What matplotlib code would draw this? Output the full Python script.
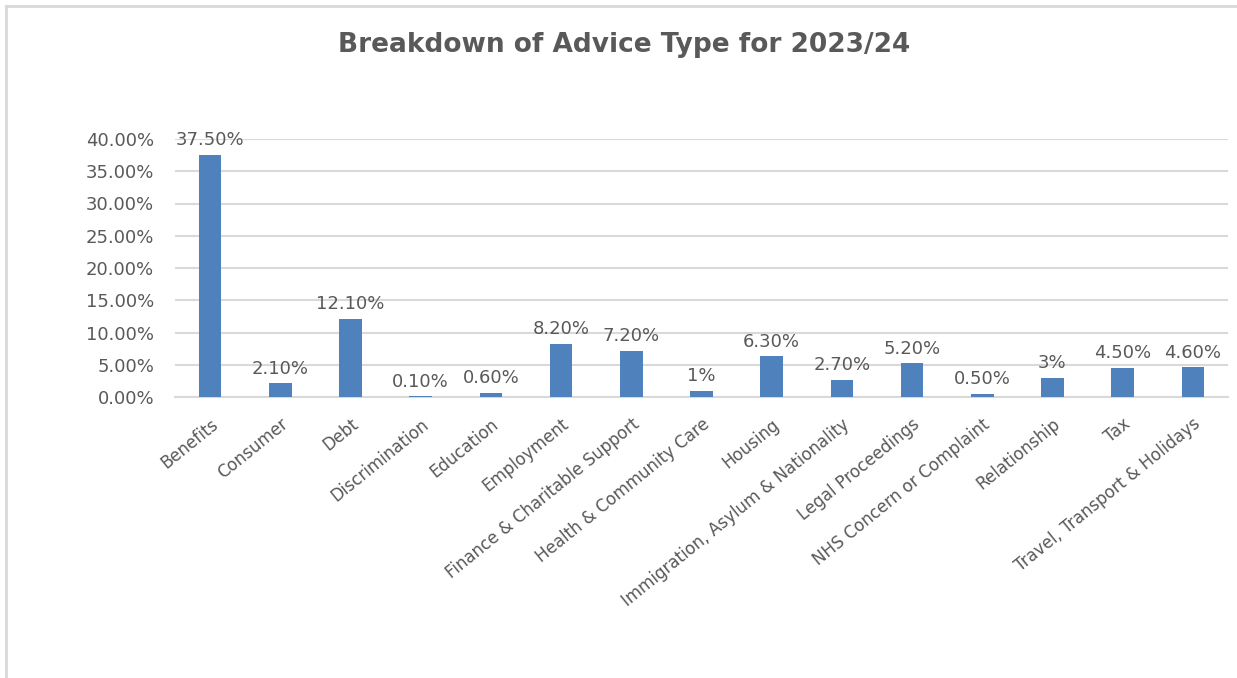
import matplotlib.pyplot as plt
from matplotlib.lines import Line2D
from matplotlib.ticker import FuncFormatter

categories = ['Benefits', 'Consumer', 'Debt', 'Discrimination', 'Education',
              'Employment', 'Finance & Charitable Support', 'Health & Community Care',
              'Housing', 'Immigration, Asylum & Nationality', 'Legal Proceedings',
              'NHS Concern or Complaint', 'Relationship', 'Tax',
              'Travel, Transport & Holidays']
values = [37.5, 2.1, 12.1, 0.1, 0.6, 8.2, 7.2, 1, 6.3, 2.7, 5.2, 0.5, 3, 4.5, 4.6]
labels = ['37.50%', '2.10%', '12.10%', '0.10%', '0.60%', '8.20%', '7.20%', '1%',
          '6.30%', '2.70%', '5.20%', '0.50%', '3%', '4.50%', '4.60%']
yticks = [0, 5, 10, 15, 20, 25, 30, 35, 40]

W, H = 1237, 678
grey = '#595959'
blue = '#4F81BD'
plt.rcParams['font.family'] = ['DejaVu Sans']

fig = plt.figure(figsize=(W / 100, H / 100), dpi=100)
ax = fig.add_axes([175 / W, 1 - 397 / H, (1228 - 175) / W, (397 - 139) / H])

x = range(len(categories))
bars = ax.bar(x, values, width=0.32, color=blue, zorder=3)
for b, lab in zip(bars, labels):
    ax.annotate(lab, (b.get_x() + b.get_width() / 2, b.get_height()),
                xytext=(0, 7), textcoords='offset points', ha='center', va='baseline',
                fontsize=13, color=grey)

ax.set_xlim(-0.5, len(categories) - 0.5)
ax.set_ylim(0, 40)
ax.set_yticks(yticks)
ax.yaxis.set_major_formatter(FuncFormatter(lambda v, p: f'{v:.2f}%'))
ax.grid(axis='y', color='#D9D9D9', linewidth=1.5, zorder=0)
ax.set_axisbelow(True)
for s in ['top', 'right', 'left']:
    ax.spines[s].set_visible(False)
ax.spines['bottom'].set_color('#D9D9D9')
ax.spines['bottom'].set_linewidth(1.5)
ax.tick_params(axis='both', length=0, colors=grey, labelsize=13)
ax.tick_params(axis='y', pad=15)
ax.set_xticks(list(x))
ax.set_xticklabels(categories, rotation=39, ha='right', rotation_mode='anchor', fontsize=12)
ax.tick_params(axis='x', pad=13)

fig.text(624 / W, 1 - 45 / H, 'Breakdown of Advice Type for 2023/24', ha='center',
         va='center', fontsize=19, fontweight='bold', color=grey)

fig.add_artist(Line2D([6 / W, 1], [1 - 6 / H, 1 - 6 / H], color='#D9D9D9', linewidth=2))
fig.add_artist(Line2D([6 / W, 6 / W], [0, 1 - 6 / H], color='#D9D9D9', linewidth=2))

fig.savefig('out.png', dpi=100)
